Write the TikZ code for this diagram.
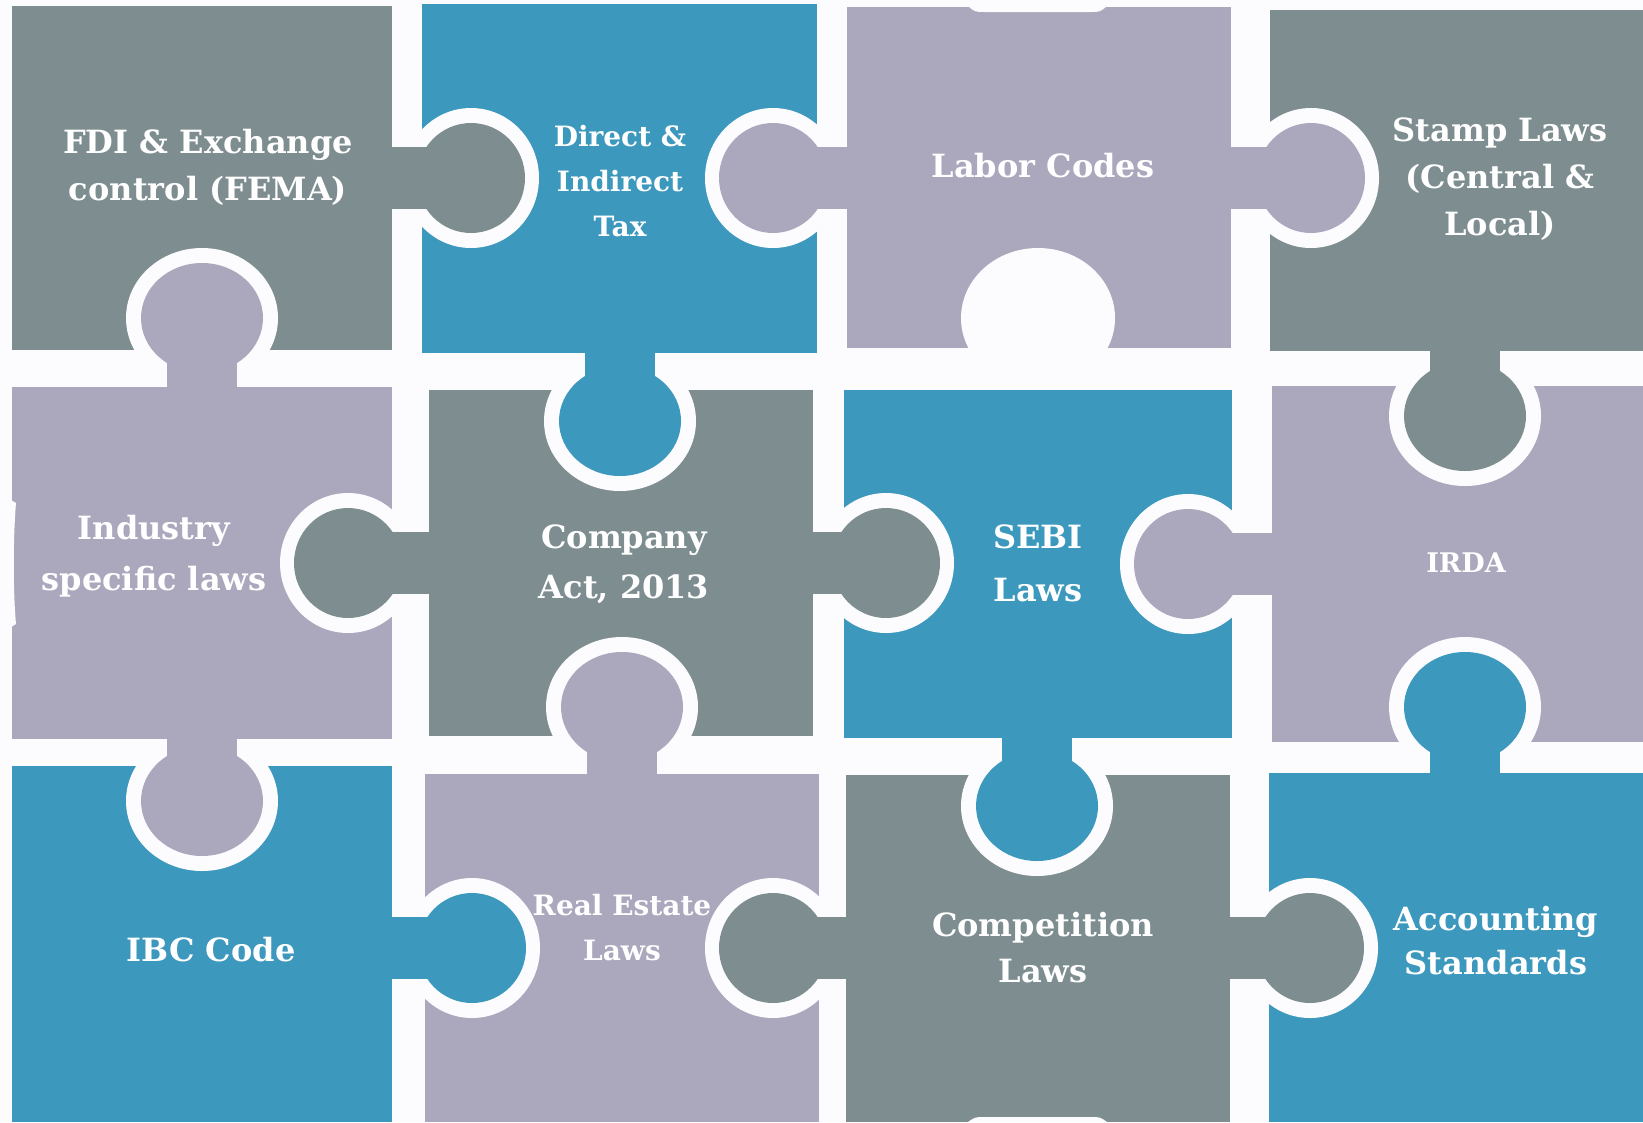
\documentclass[tikz,border=0pt]{standalone}
\usepackage{fontspec}
\setmainfont{DejaVu Serif}
\definecolor{pgrey}{HTML}{7E8E90}
\definecolor{pblue}{HTML}{3D98BE}
\definecolor{plav}{HTML}{ABA8BE}
\definecolor{bgw}{HTML}{FCFCFE}
% #1 colour, #2 source edge x, #3 #4 head centre, #5 direction (+1 right, -1 left)
\newcommand\hknob[5]{%
  \fill[bgw] (#3,#4) ellipse [x radius=68, y radius=70];
  \fill[#1] (#2-12*#5,#4-31) rectangle (#3,#4+31);
  \fill[#1] (#3,#4) ellipse [x radius=54, y radius=55];
}
% #1 colour, #2 source edge y, #3 #4 head centre, #5 direction (+1 down, -1 up)
\newcommand\vknob[5]{%
  \fill[bgw] (#3,#4) ellipse [x radius=76, y radius=70];
  \fill[#1] (#3-35,#2-12*#5) rectangle (#3+35,#4);
  \fill[#1] (#3,#4) ellipse [x radius=61, y radius=55];
}
\begin{document}
\begin{tikzpicture}[x=1pt,y=-1pt,
  lbl/.style={text=white, align=center, inner sep=0pt, font=\bfseries\fontsize{32}{47}\selectfont}]
\useasboundingbox (0,0) rectangle (1643,1122);
\fill[bgw] (0,0) rectangle (1643,1122);
% pieces
\fill[pgrey] (12,6) rectangle (392,350);
\fill[pblue] (422,4) rectangle (817,353);
\fill[plav]  (847,7) rectangle (1231,348);
\fill[pgrey] (1270,10) rectangle (1643,351);
\fill[plav]  (12,387) rectangle (392,739);
\fill[pgrey] (429,390) rectangle (813,736);
\fill[pblue] (844,390) rectangle (1232,738);
\fill[plav]  (1272,386) rectangle (1643,742);
\fill[pblue] (12,766) rectangle (392,1122);
\fill[plav]  (425,774) rectangle (819,1122);
\fill[pgrey] (846,775) rectangle (1230,1122);
\fill[pblue] (1269,773) rectangle (1643,1122);
% hole in Labor Codes
\fill[bgw] (1038,318) ellipse [x radius=77, y radius=70];
% small edge notches
\fill[bgw] (968,6) .. controls (975,12) .. (985,12) -- (1090,12) .. controls (1100,12) .. (1107,6) -- cycle;
\fill[bgw] (968,1122) .. controls (975,1117) .. (985,1117) -- (1090,1117) .. controls (1100,1117) .. (1107,1122) -- cycle;
\fill[bgw] (11,500) -- (16,503) .. controls (13,540) and (13,590) .. (16,624) -- (11,627) -- cycle;
% horizontal knobs
\hknob{pgrey}{392}{471}{178}{1}
\hknob{plav}{847}{773}{178}{-1}
\hknob{plav}{1231}{1311}{178}{1}
\hknob{pgrey}{429}{348}{563}{-1}
\hknob{pgrey}{813}{886}{563}{1}
\hknob{plav}{1272}{1188}{564}{-1}
\hknob{pblue}{392}{472}{948}{1}
\hknob{pgrey}{846}{773}{948}{-1}
\hknob{pgrey}{1230}{1310}{948}{1}
% vertical knobs
\vknob{plav}{387}{202}{318}{-1}
\vknob{plav}{739}{202}{801}{1}
\vknob{pblue}{353}{620}{421}{1}
\vknob{plav}{774}{622}{707}{-1}
\vknob{pblue}{738}{1037}{806}{1}
\vknob{pgrey}{351}{1465}{416}{1}
\vknob{pblue}{773}{1465}{707}{-1}
% labels
\node[lbl] (fdi) at (208,167) {FDI \& Exchange\\control (FEMA)};
\node[lbl, font=\bfseries\fontsize{28}{45}\selectfont] (tax) at (620,181) {Direct \&\\Indirect\\Tax};
\node[lbl] (labor) at (1043,166) {Labor Codes};
\node[lbl] (stamp) at (1500,179) {Stamp Laws\\(Central \&\\Local)};
\node[lbl, font=\bfseries\fontsize{32}{51}\selectfont] (industry) at (154,556) {Industry\\specific laws};
\node[lbl, font=\bfseries\fontsize{32}{50}\selectfont] (company) at (624,564) {Company\\Act, 2013};
\node[lbl, font=\bfseries\fontsize{32}{53}\selectfont] (sebi) at (1038,563) {SEBI\\Laws};
\node[lbl, font=\bfseries\fontsize{27}{40}\selectfont] (irda) at (1466,563) {IRDA};
\node[lbl] (ibc) at (211,950) {IBC Code};
\node[lbl, font=\bfseries\fontsize{28}{45}\selectfont] (realestate) at (622,928) {Real Estate\\Laws};
\node[lbl, font=\bfseries\fontsize{32}{46}\selectfont] (competition) at (1043,948) {Competition\\Laws};
\node[lbl, font=\bfseries\fontsize{32}{44}\selectfont] (accounting) at (1496,941) {Accounting\\Standards};
\end{tikzpicture}
\end{document}
